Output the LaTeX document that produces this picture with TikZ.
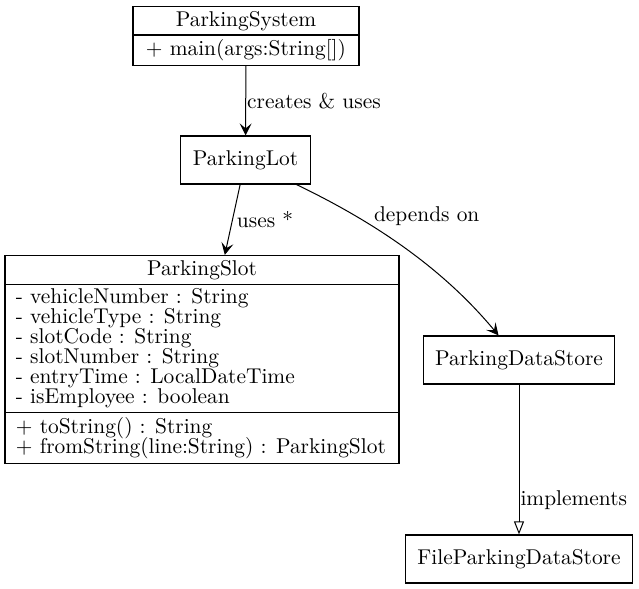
\documentclass[tikz,border=0pt]{standalone}
\usetikzlibrary{arrows.meta,shapes.multipart}
\newcommand{\umlfont}{\fontsize{10.7}{10}\selectfont\lineskiplimit=-5pt\relax}
\tikzset{
  every node/.style={font=\umlfont},
  cls/.style={draw, line width=0.6pt, rectangle split, inner xsep=5.5pt, inner ysep=2pt, align=left},
  box/.style={draw, line width=0.6pt, inner xsep=6pt, minimum height=24pt},
  uses/.style={line width=0.5pt, -{Stealth[length=6pt,width=6pt,inset=2.5pt]}},
  impl/.style={line width=0.5pt, -{Triangle[open,length=6.5pt,width=5pt]}},
  lbl/.style={inner sep=0.5pt}
}
\begin{document}
\begin{tikzpicture}[x=0.5pt, y=-0.5pt]
	\useasboundingbox (0,0) rectangle (639,589);
	
	% classes
	\node[cls, rectangle split parts=2, minimum width=113pt] (sys) at (246,36)
		{ParkingSystem \nodepart{second} + main(args:String[])};
	\node[box] (lot) at (245.5,160) {ParkingLot};
	\node[cls, rectangle split parts=3, rectangle split part align={center,left,left}, minimum width=197pt] (slot) at (202,359.5)
		{ParkingSlot
		\nodepart{second} - vehicleNumber : String\\ - vehicleType : String\\ - slotCode : String\\ - slotNumber : String\\ - entryTime : LocalDateTime\\ - isEmployee : boolean
		\nodepart{third} + toString() : String\\ + fromString(line:String) : ParkingSlot};
	\node[box] (store) at (519,360) {ParkingDataStore};
	\node[box] (file) at (519,559) {FileParkingDataStore};
	
	% relations
	\draw[uses] (sys) -- (lot) node[lbl, midway, right] {creates \& uses};
	\draw[uses] (lot) -- (slot) node[lbl, midway, right, xshift=1.5pt] {uses *};
	\draw[uses] (lot) .. controls (370,220) and (440,265) .. (store)
		node[lbl, pos=0.4, anchor=south west, xshift=-5pt, yshift=3pt] {depends on};
	\draw[impl] (store) -- (file) node[lbl, pos=0.77, right] {implements};
\end{tikzpicture}
\end{document}
